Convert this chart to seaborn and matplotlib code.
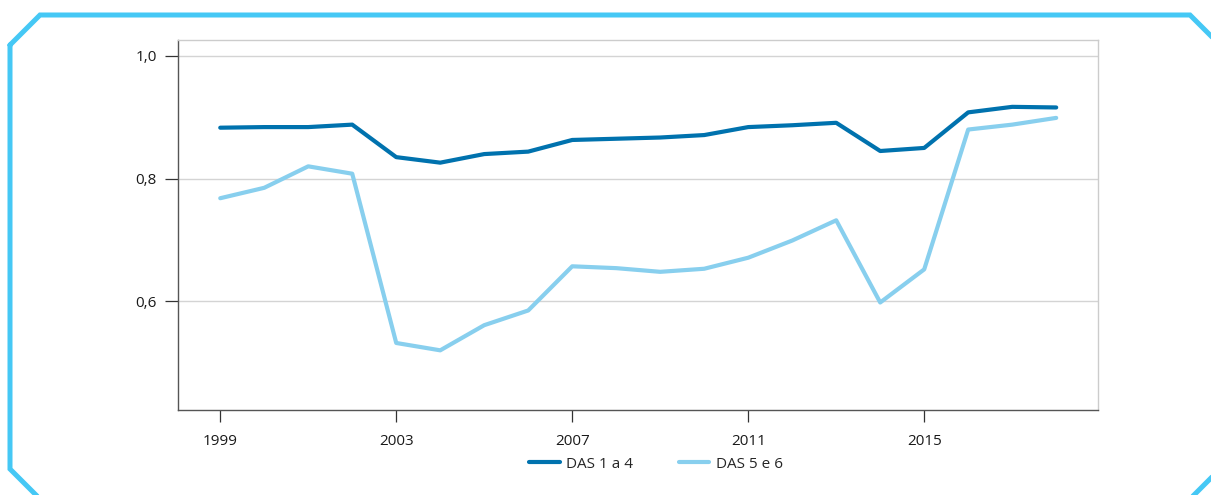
import matplotlib
matplotlib.use("Agg")
import matplotlib.pyplot as plt
import seaborn as sns
import pandas as pd
from matplotlib.lines import Line2D

years = list(range(1999, 2019))
das_1_4 = [0.883, 0.884, 0.884, 0.888, 0.835, 0.826, 0.840, 0.844, 0.863, 0.865,
           0.867, 0.871, 0.884, 0.887, 0.891, 0.845, 0.850, 0.908, 0.917, 0.916]
das_5_6 = [0.768, 0.785, 0.820, 0.808, 0.532, 0.520, 0.561, 0.585, 0.657, 0.654,
           0.648, 0.653, 0.671, 0.699, 0.732, 0.598, 0.652, 0.880, 0.888, 0.899]
series_names = ["DAS 1 a 4", "DAS 5 e 6"]
xtick_values = [1999, 2003, 2007, 2011, 2015]
ytick_values = [0.6, 0.8, 1.0]
ytick_labels = ["0,6", "0,8", "1,0"]

df = pd.DataFrame({
    "ano": years * 2,
    "valor": das_1_4 + das_5_6,
    "serie": [series_names[0]] * len(years) + [series_names[1]] * len(years),
})

sns.set_theme(style="white")
plt.rcParams["font.family"] = ["Open Sans", "DejaVu Sans"]

W, H = 1211, 495
fig = plt.figure(figsize=(W / 100, H / 100), dpi=100)
ax = fig.add_axes([178 / W, 1 - 410 / H, (1098 - 178) / W, (410 - 40) / H])

palette = {series_names[0]: "#0072AE", series_names[1]: "#88CFEE"}
sns.lineplot(data=df, x="ano", y="valor", hue="serie", palette=palette,
             linewidth=3.0, ax=ax, legend=False)

ax.set_xlim(1998.04, 2018.95)
ax.set_ylim(0.4227, 1.026)
ax.set_xticks(xtick_values)
ax.set_xticklabels([str(v) for v in xtick_values])
ax.set_yticks(ytick_values)
ax.set_yticklabels(ytick_labels)
ax.set_xlabel("")
ax.set_ylabel("")

ax.grid(axis="y", color="#d4d4d4", linewidth=1.0)
ax.set_axisbelow(True)
for s in ["left", "bottom"]:
    ax.spines[s].set_color("#555555")
    ax.spines[s].set_linewidth(1.0)
for s in ["top", "right"]:
    ax.spines[s].set_color("#cccccc")
    ax.spines[s].set_linewidth(1.0)

ax.tick_params(axis="x", direction="out", length=8.6, width=0.9, color="#333333",
               labelsize=11, labelcolor="#1a1a1a", pad=9, bottom=True)
ax.tick_params(axis="y", direction="out", length=9.4, width=0.9, color="#333333",
               labelsize=11, labelcolor="#1a1a1a", pad=6, left=True)

handles = [Line2D([0], [0], color=palette[n], linewidth=3.0) for n in series_names]
fig.legend(handles, series_names, loc="center", bbox_to_anchor=(656 / W, 1 - 464 / H),
           ncol=2, frameon=False, fontsize=11, handlelength=2.0,
           handletextpad=0.4, columnspacing=3.0)

# decorative frame with cut corners
fx = [10, 10, 40, 1190, 1220, 1220, 1190, 40, 10]
fy = [45, 469, 499, 499, 469, 45, 15, 15, 45]
fig.add_artist(Line2D([x / W for x in fx], [1 - y / H for y in fy],
                      transform=fig.transFigure, color="#45C8F5", linewidth=3.6,
                      solid_joinstyle="miter"))

fig.savefig("out.png", dpi=100)
